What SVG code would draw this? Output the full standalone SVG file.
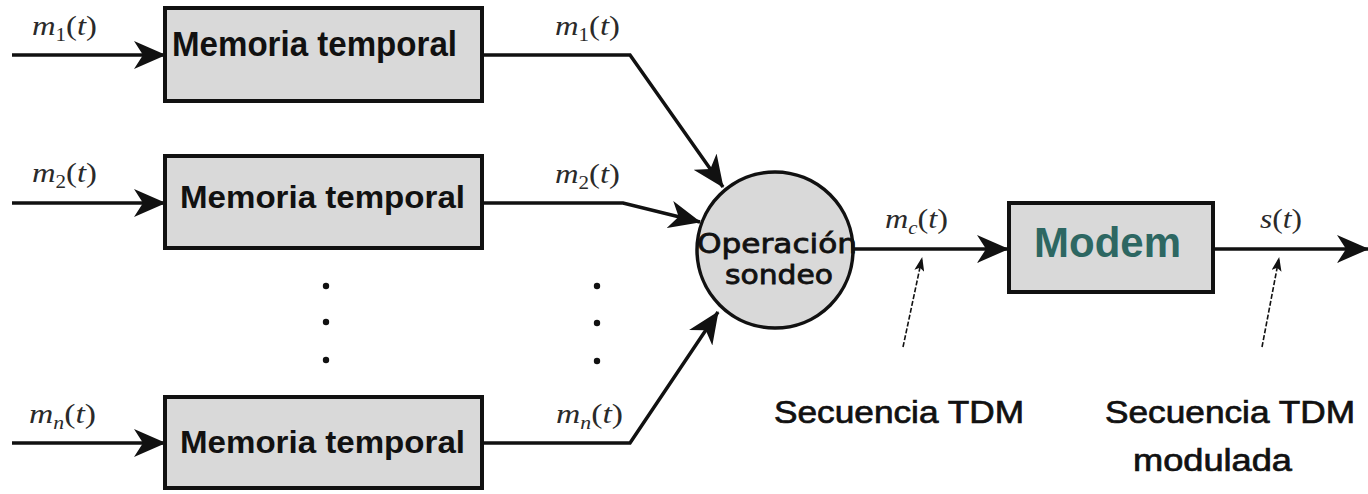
<svg xmlns="http://www.w3.org/2000/svg" width="1368" height="494" viewBox="0 0 1368 494">
<defs>
<style>
.box{fill:#d9d9d9;stroke:#111;stroke-width:4}
.mem{font-family:"Liberation Sans",Arial,sans-serif;font-weight:bold;fill:#111}
.lbl{font-family:"Liberation Serif","Times New Roman",serif;font-style:italic;font-size:28px;fill:#2a2a2a}
.sub{font-size:18px}
.up{font-style:normal}
.conn{fill:none;stroke:#111;stroke-width:3.5}
.ptr{fill:none;stroke:#111;stroke-width:1.6;stroke-dasharray:5 2}
.cap{font-family:"Liberation Sans",Arial,sans-serif;font-size:31px;fill:#111;stroke:#111;stroke-width:0.7}
</style>
<marker id="ah" markerUnits="userSpaceOnUse" viewBox="0 0 32 28" refX="31" refY="14" markerWidth="32" markerHeight="28" orient="auto">
<path d="M0,0 L32,14 L0,28 L9,14 Z" fill="#111"/>
</marker>
<marker id="sh" markerUnits="userSpaceOnUse" viewBox="0 0 14 10" refX="13" refY="5" markerWidth="14" markerHeight="10" orient="auto">
<path d="M0,0 L14,5 L0,10 L3,5 Z" fill="#111"/>
</marker>
</defs>
<rect width="1368" height="494" fill="#fff"/>

<g id="connectors">
<path class="conn" d="M12,55 H165" marker-end="url(#ah)"/>
<path class="conn" d="M12,203 H165" marker-end="url(#ah)"/>
<path class="conn" d="M12,443 H165" marker-end="url(#ah)"/>
<path class="conn" d="M482,55 H630 L723,187" marker-end="url(#ah)"/>
<path class="conn" d="M482,203 H623 L700,222" marker-end="url(#ah)"/>
<path class="conn" d="M482,443 H630 L718,312" marker-end="url(#ah)"/>
<path class="conn" d="M853,249 H1008" marker-end="url(#ah)"/>
<path class="conn" d="M1213,249 H1368" marker-end="url(#ah)"/>
<path class="ptr" d="M903,347 L922,258" marker-end="url(#sh)"/>
<path class="ptr" d="M1262,347 L1279,258" marker-end="url(#sh)"/>
</g>

<g id="labels">
<text class="lbl" x="32" y="35" textLength="65" lengthAdjust="spacingAndGlyphs">m<tspan class="sub up" dy="6">1</tspan><tspan dy="-6" class="up">(</tspan>t<tspan class="up">)</tspan></text>
<text class="lbl" x="32" y="182" textLength="65" lengthAdjust="spacingAndGlyphs">m<tspan class="sub up" dy="6">2</tspan><tspan dy="-6" class="up">(</tspan>t<tspan class="up">)</tspan></text>
<text class="lbl" x="29" y="423" textLength="67" lengthAdjust="spacingAndGlyphs">m<tspan class="sub" dy="6">n</tspan><tspan dy="-6" class="up">(</tspan>t<tspan class="up">)</tspan></text>
<text class="lbl" x="555" y="35" textLength="65" lengthAdjust="spacingAndGlyphs">m<tspan class="sub up" dy="6">1</tspan><tspan dy="-6" class="up">(</tspan>t<tspan class="up">)</tspan></text>
<text class="lbl" x="555" y="183" textLength="65" lengthAdjust="spacingAndGlyphs">m<tspan class="sub up" dy="6">2</tspan><tspan dy="-6" class="up">(</tspan>t<tspan class="up">)</tspan></text>
<text class="lbl" x="556" y="423" textLength="67" lengthAdjust="spacingAndGlyphs">m<tspan class="sub" dy="6">n</tspan><tspan dy="-6" class="up">(</tspan>t<tspan class="up">)</tspan></text>
<text class="lbl" x="885" y="228" textLength="63" lengthAdjust="spacingAndGlyphs">m<tspan class="sub" dy="6">c</tspan><tspan dy="-6" class="up">(</tspan>t<tspan class="up">)</tspan></text>
<text class="lbl" x="1260" y="228" textLength="42" lengthAdjust="spacingAndGlyphs">s<tspan class="up">(</tspan>t<tspan class="up">)</tspan></text>
</g>

<g id="dots" fill="#111">
<circle cx="326" cy="286" r="3.2"/><circle cx="326" cy="322" r="3.2"/><circle cx="326" cy="360" r="3.2"/>
<circle cx="597" cy="286" r="3.2"/><circle cx="597" cy="323" r="3.2"/><circle cx="597" cy="361" r="3.2"/>
</g>

<g id="mem1">
<rect class="box" x="165" y="8" width="317" height="93"/>
<text class="mem" x="172" y="56" font-size="35" textLength="285" lengthAdjust="spacingAndGlyphs">Memoria temporal</text>
</g>
<g id="mem2">
<rect class="box" x="165" y="156" width="317" height="92"/>
<text class="mem" x="180" y="208" font-size="31" textLength="285" lengthAdjust="spacingAndGlyphs">Memoria temporal</text>
</g>
<g id="mem3">
<rect class="box" x="165" y="397" width="317" height="91"/>
<text class="mem" x="180" y="453" font-size="31" textLength="285" lengthAdjust="spacingAndGlyphs">Memoria temporal</text>
</g>

<g id="sondeo">
<circle cx="775" cy="250" r="78" fill="#d9d9d9" stroke="#111" stroke-width="3.5"/>
<text x="697" y="253" font-family="'DejaVu Sans',Verdana,sans-serif" font-size="27" fill="#111" stroke="#111" stroke-width="0.8" textLength="160" lengthAdjust="spacingAndGlyphs">Operación</text>
<text x="725" y="284" font-family="'DejaVu Sans',Verdana,sans-serif" font-size="27" fill="#111" stroke="#111" stroke-width="0.8" textLength="108" lengthAdjust="spacingAndGlyphs">sondeo</text>
</g>

<g id="modem">
<rect class="box" x="1009" y="203" width="204" height="89"/>
<text x="1034" y="257" font-family="'Liberation Sans',Arial,sans-serif" font-weight="bold" font-size="43" fill="#2d6762" textLength="147" lengthAdjust="spacingAndGlyphs">Modem</text>
</g>

<g id="captions">
<text class="cap" x="774" y="423" textLength="250" lengthAdjust="spacingAndGlyphs">Secuencia TDM</text>
<text class="cap" x="1105" y="423" textLength="250" lengthAdjust="spacingAndGlyphs">Secuencia TDM</text>
<text class="cap" x="1133" y="471" textLength="159" lengthAdjust="spacingAndGlyphs">modulada</text>
</g>
</svg>
